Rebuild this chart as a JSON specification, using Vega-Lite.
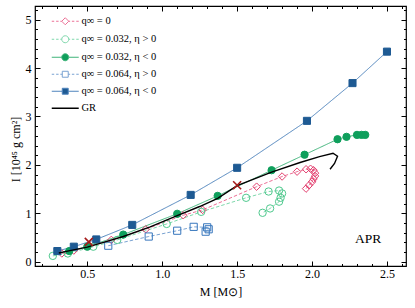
{
  "$schema": "https://vega.github.io/schema/vega-lite/v6.json",
  "width": 371,
  "height": 260,
  "autosize": "none",
  "padding": {"left": 35, "top": 6, "right": 9, "bottom": 42},
  "config": {
    "view": {"stroke": "black", "strokeWidth": 1.2},
    "font": "Liberation Serif",
    "axis": {"labelFont": "Liberation Serif", "titleFont": "Liberation Serif", "labelFontSize": 12, "titleFontSize": 12, "titleFontWeight": "normal", "labelColor": "black", "titleColor": "black", "tickColor": "black", "domain": false, "grid": false}
  },
  "datasets": {
    "series": [
      {"series": "q∞ = 0", "i": 0, "M": 0.33, "I": 0.17},
      {"series": "q∞ = 0", "i": 1, "M": 0.41, "I": 0.23},
      {"series": "q∞ = 0", "i": 2, "M": 0.66, "I": 0.45},
      {"series": "q∞ = 0", "i": 3, "M": 0.89, "I": 0.67},
      {"series": "q∞ = 0", "i": 4, "M": 1.14, "I": 0.96},
      {"series": "q∞ = 0", "i": 5, "M": 1.27, "I": 1.07},
      {"series": "q∞ = 0", "i": 6, "M": 1.63, "I": 1.55},
      {"series": "q∞ = 0", "i": 7, "M": 1.80, "I": 1.76},
      {"series": "q∞ = 0", "i": 8, "M": 1.90, "I": 1.86},
      {"series": "q∞ = 0", "i": 9, "M": 1.96, "I": 1.91},
      {"series": "q∞ = 0", "i": 10, "M": 1.99, "I": 1.92},
      {"series": "q∞ = 0", "i": 11, "M": 2.01, "I": 1.89},
      {"series": "q∞ = 0", "i": 12, "M": 2.02, "I": 1.83},
      {"series": "q∞ = 0", "i": 13, "M": 2.02, "I": 1.77},
      {"series": "q∞ = 0", "i": 14, "M": 2.01, "I": 1.71},
      {"series": "q∞ = 0", "i": 15, "M": 2.00, "I": 1.65},
      {"series": "q∞ = 0", "i": 16, "M": 1.98, "I": 1.58},
      {"series": "q∞ = 0", "i": 17, "M": 1.96, "I": 1.51},
      {"series": "q∞ = 0.032, η > 0", "i": 0, "M": 0.27, "I": 0.12},
      {"series": "q∞ = 0.032, η > 0", "i": 1, "M": 0.37, "I": 0.17},
      {"series": "q∞ = 0.032, η > 0", "i": 2, "M": 0.54, "I": 0.31},
      {"series": "q∞ = 0.032, η > 0", "i": 3, "M": 0.70, "I": 0.45},
      {"series": "q∞ = 0.032, η > 0", "i": 4, "M": 1.03, "I": 0.78},
      {"series": "q∞ = 0.032, η > 0", "i": 5, "M": 1.26, "I": 1.03},
      {"series": "q∞ = 0.032, η > 0", "i": 6, "M": 1.56, "I": 1.32},
      {"series": "q∞ = 0.032, η > 0", "i": 7, "M": 1.71, "I": 1.45},
      {"series": "q∞ = 0.032, η > 0", "i": 8, "M": 1.78, "I": 1.47},
      {"series": "q∞ = 0.032, η > 0", "i": 9, "M": 1.80, "I": 1.41},
      {"series": "q∞ = 0.032, η > 0", "i": 10, "M": 1.79, "I": 1.32},
      {"series": "q∞ = 0.032, η > 0", "i": 11, "M": 1.78, "I": 1.24},
      {"series": "q∞ = 0.032, η > 0", "i": 12, "M": 1.72, "I": 1.10},
      {"series": "q∞ = 0.032, η > 0", "i": 13, "M": 1.67, "I": 1.01},
      {"series": "q∞ = 0.032, η < 0", "i": 0, "M": 0.38, "I": 0.22},
      {"series": "q∞ = 0.032, η < 0", "i": 1, "M": 0.50, "I": 0.31},
      {"series": "q∞ = 0.032, η < 0", "i": 2, "M": 0.74, "I": 0.56},
      {"series": "q∞ = 0.032, η < 0", "i": 3, "M": 1.10, "I": 0.99},
      {"series": "q∞ = 0.032, η < 0", "i": 4, "M": 1.37, "I": 1.36},
      {"series": "q∞ = 0.032, η < 0", "i": 5, "M": 1.73, "I": 1.89},
      {"series": "q∞ = 0.032, η < 0", "i": 6, "M": 1.95, "I": 2.21},
      {"series": "q∞ = 0.032, η < 0", "i": 7, "M": 2.17, "I": 2.53},
      {"series": "q∞ = 0.032, η < 0", "i": 8, "M": 2.23, "I": 2.58},
      {"series": "q∞ = 0.032, η < 0", "i": 9, "M": 2.30, "I": 2.62},
      {"series": "q∞ = 0.032, η < 0", "i": 10, "M": 2.33, "I": 2.62},
      {"series": "q∞ = 0.032, η < 0", "i": 11, "M": 2.355, "I": 2.62},
      {"series": "q∞ = 0.064, η > 0", "i": 0, "M": 0.64, "I": 0.33},
      {"series": "q∞ = 0.064, η > 0", "i": 1, "M": 0.91, "I": 0.52},
      {"series": "q∞ = 0.064, η > 0", "i": 2, "M": 1.10, "I": 0.64},
      {"series": "q∞ = 0.064, η > 0", "i": 3, "M": 1.21, "I": 0.72},
      {"series": "q∞ = 0.064, η > 0", "i": 4, "M": 1.30, "I": 0.71},
      {"series": "q∞ = 0.064, η > 0", "i": 5, "M": 1.31, "I": 0.67},
      {"series": "q∞ = 0.064, η > 0", "i": 6, "M": 1.29, "I": 0.62},
      {"series": "q∞ = 0.064, η < 0", "i": 0, "M": 0.30, "I": 0.22},
      {"series": "q∞ = 0.064, η < 0", "i": 1, "M": 0.41, "I": 0.31},
      {"series": "q∞ = 0.064, η < 0", "i": 2, "M": 0.56, "I": 0.46},
      {"series": "q∞ = 0.064, η < 0", "i": 3, "M": 0.80, "I": 0.76},
      {"series": "q∞ = 0.064, η < 0", "i": 4, "M": 1.19, "I": 1.38},
      {"series": "q∞ = 0.064, η < 0", "i": 5, "M": 1.50, "I": 1.94},
      {"series": "q∞ = 0.064, η < 0", "i": 6, "M": 1.966, "I": 2.91},
      {"series": "q∞ = 0.064, η < 0", "i": 7, "M": 2.27, "I": 3.69},
      {"series": "q∞ = 0.064, η < 0", "i": 8, "M": 2.50, "I": 4.34}
    ],
    "gr": [
      {"series": "GR", "i": 0, "M": 0.31, "I": 0.18},
      {"series": "GR", "i": 1, "M": 0.40, "I": 0.24},
      {"series": "GR", "i": 2, "M": 0.50, "I": 0.30},
      {"series": "GR", "i": 3, "M": 0.62, "I": 0.41},
      {"series": "GR", "i": 4, "M": 0.74, "I": 0.52},
      {"series": "GR", "i": 5, "M": 0.92, "I": 0.72},
      {"series": "GR", "i": 6, "M": 1.10, "I": 0.95},
      {"series": "GR", "i": 7, "M": 1.25, "I": 1.14},
      {"series": "GR", "i": 8, "M": 1.37, "I": 1.31},
      {"series": "GR", "i": 9, "M": 1.50, "I": 1.57},
      {"series": "GR", "i": 10, "M": 1.73, "I": 1.85},
      {"series": "GR", "i": 11, "M": 1.92, "I": 2.05},
      {"series": "GR", "i": 12, "M": 2.05, "I": 2.17},
      {"series": "GR", "i": 13, "M": 2.14, "I": 2.24},
      {"series": "GR", "i": 14, "M": 2.17, "I": 2.18},
      {"series": "GR", "i": 15, "M": 2.15, "I": 2.03},
      {"series": "GR", "i": 16, "M": 2.12, "I": 1.91}
    ],
    "cross": [
      {"M": 0.51, "I": 0.41},
      {"M": 1.50, "I": 1.58}
    ],
    "label": [
      {"M": 2.375, "I": 0.46, "text": "APR"}
    ]
  },
  "resolve": {"axis": {"x": "independent", "y": "independent"}},
  "layer": [
    {
      "data": {"name": "series"},
      "mark": {"type": "line", "strokeWidth": 1},
      "encoding": {
        "x": {"field": "M", "type": "quantitative", "scale": {"domain": [0.151, 2.627], "nice": false, "zero": false},
              "axis": {"orient": "bottom", "values": [0.5, 1, 1.5, 2, 2.5], "format": ".1f", "tickSize": -5, "labelPadding": 7, "title": "M [M⊙]", "titlePadding": 7}},
        "y": {"field": "I", "type": "quantitative", "scale": {"domain": [-0.089, 5.283], "nice": false, "zero": false},
              "axis": {"orient": "left", "values": [0, 1, 2, 3, 4, 5], "format": "d", "tickSize": -5, "labelPadding": 9, "title": "I [10⁴⁵ g cm²]", "titleX": -20, "titleY": 143, "titleBaseline": "middle", "titleAlign": "center"}},
        "order": {"field": "i", "type": "quantitative"},
        "color": {"field": "series", "type": "nominal",
          "scale": {"domain": ["q∞ = 0", "q∞ = 0.032, η > 0", "q∞ = 0.032, η < 0", "q∞ = 0.064, η > 0", "q∞ = 0.064, η < 0", "GR"],
                    "range": ["#ec7096", "#7fd8ac", "#3fb47a", "#7aa3d2", "#4f84bd", "#000000"]},
          "legend": {
            "orient": "none", "legendX": 15, "legendY": 10, "title": null, "padding": 0,
            "labelFont": "Liberation Serif", "labelFontSize": 10.5, "labelColor": "black", "labelOffset": 21,
            "rowPadding": 6, "symbolSize": 49,
            "encode": {"symbols": {"update": {
              "shape": {"signal": "['M-1,0H-0.3M0.25,0H0.95M1.45,0H1.857M3.857,0H4.25M4.75,0H5.45M6,0H6.71M2.857,-1L3.857,0L2.857,1L1.857,0Z','M-1,0H-0.3M0.25,0H0.95M1.45,0H1.857M3.857,0H4.25M4.75,0H5.45M6,0H6.71M3.857,0A1,1,0,1,1,1.857,0A1,1,0,1,1,3.857,0Z','M-1,0H1.857M3.857,0H6.71M3.857,0A1,1,0,1,1,1.857,0A1,1,0,1,1,3.857,0Z','M-1,0H-0.3M0.25,0H0.95M1.45,0H2.007M3.707,0H4.25M4.75,0H5.45M6,0H6.71M2.007,-0.85H3.707V0.85H2.007Z','M-1,0H2.007M3.707,0H6.71M2.007,-0.85H3.707V0.85H2.007Z','M-1,0H6.71'][datum.index]"},
              "fill": {"signal": "['transparent','transparent','#0f9f5c','transparent','#1e5a93','transparent'][datum.index]"},
              "stroke": {"signal": "['#e3406f','#4fc98e','#0f9f5c','#3877bd','#1e5a93','#000000'][datum.index]"},
              "strokeWidth": {"signal": "datum.index == 5 ? 1.5 : 1"},
              "strokeDash": {"value": []},
              "opacity": {"value": 1}
            }}}
          }
        },
        "strokeDash": {"field": "series", "type": "nominal", "legend": null,
          "scale": {"domain": ["q∞ = 0", "q∞ = 0.032, η > 0", "q∞ = 0.032, η < 0", "q∞ = 0.064, η > 0", "q∞ = 0.064, η < 0"],
                    "range": [[3.5, 2], [3.5, 2], [1, 0], [3.5, 2], [1, 0]]}}
      }
    },
    {
      "data": {"name": "series"},
      "mark": {"type": "point", "filled": false, "strokeWidth": 1, "opacity": 1},
      "encoding": {
        "x": {"field": "M", "type": "quantitative", "axis": {"orient": "top", "values": [0.5, 1, 1.5, 2, 2.5], "labels": false, "tickSize": -5, "title": null}},
        "y": {"field": "I", "type": "quantitative", "axis": {"orient": "right", "values": [0, 1, 2, 3, 4, 5], "labels": false, "tickSize": -5, "title": null}},
        "shape": {"field": "series", "type": "nominal", "legend": null,
          "scale": {"domain": ["q∞ = 0", "q∞ = 0.032, η > 0", "q∞ = 0.032, η < 0", "q∞ = 0.064, η > 0", "q∞ = 0.064, η < 0"],
                    "range": ["diamond", "circle", "circle", "square", "square"]}},
        "stroke": {"field": "series", "type": "nominal", "legend": null,
          "scale": {"domain": ["q∞ = 0", "q∞ = 0.032, η > 0", "q∞ = 0.032, η < 0", "q∞ = 0.064, η > 0", "q∞ = 0.064, η < 0"],
                    "range": ["#e3406f", "#4fc98e", "#0f9f5c", "#3877bd", "#1e5a93"]}},
        "fill": {"field": "series", "type": "nominal", "legend": null,
          "scale": {"domain": ["q∞ = 0", "q∞ = 0.032, η > 0", "q∞ = 0.032, η < 0", "q∞ = 0.064, η > 0", "q∞ = 0.064, η < 0"],
                    "range": ["transparent", "transparent", "#0f9f5c", "transparent", "#1e5a93"]}},
        "size": {"field": "series", "type": "nominal", "legend": null,
          "scale": {"domain": ["q∞ = 0", "q∞ = 0.032, η > 0", "q∞ = 0.032, η < 0", "q∞ = 0.064, η > 0", "q∞ = 0.064, η < 0"],
                    "range": [56, 50, 45, 40, 45]}}
      }
    },
    {
      "data": {"name": "gr"},
      "mark": {"type": "line", "strokeWidth": 1.4},
      "encoding": {
        "x": {"field": "M", "type": "quantitative", "axis": {"orient": "bottom", "values": [0.2,0.3,0.4,0.6,0.7,0.8,0.9,1.1,1.2,1.3,1.4,1.6,1.7,1.8,1.9,2.1,2.2,2.3,2.4,2.6], "labels": false, "tickSize": -2.5, "title": null}},
        "y": {"field": "I", "type": "quantitative", "axis": {"orient": "left", "values": [0.2,0.4,0.6,0.8,1.2,1.4,1.6,1.8,2.2,2.4,2.6,2.8,3.2,3.4,3.6,3.8,4.2,4.4,4.6,4.8,5.2], "labels": false, "tickSize": -2.5, "title": null}},
        "order": {"field": "i", "type": "quantitative"},
        "color": {"field": "series", "type": "nominal"}
      }
    },
    {
      "data": {"name": "cross"},
      "mark": {"type": "point", "shape": "M-1,-1L1,1M-1,1L1,-1", "size": 64, "stroke": "#a51b1b", "strokeWidth": 1.6, "filled": false, "opacity": 1},
      "encoding": {
        "x": {"field": "M", "type": "quantitative", "axis": {"orient": "top", "values": [0.2,0.3,0.4,0.6,0.7,0.8,0.9,1.1,1.2,1.3,1.4,1.6,1.7,1.8,1.9,2.1,2.2,2.3,2.4,2.6], "labels": false, "tickSize": -2.5, "title": null}},
        "y": {"field": "I", "type": "quantitative", "axis": {"orient": "right", "values": [0.2,0.4,0.6,0.8,1.2,1.4,1.6,1.8,2.2,2.4,2.6,2.8,3.2,3.4,3.6,3.8,4.2,4.4,4.6,4.8,5.2], "labels": false, "tickSize": -2.5, "title": null}}
      }
    },
    {
      "data": {"name": "label"},
      "mark": {"type": "text", "font": "Liberation Serif", "fontSize": 13.5, "color": "black", "align": "center", "baseline": "middle"},
      "encoding": {
        "x": {"field": "M", "type": "quantitative", "axis": null},
        "y": {"field": "I", "type": "quantitative", "axis": null},
        "text": {"field": "text"}
      }
    }
  ]
}
